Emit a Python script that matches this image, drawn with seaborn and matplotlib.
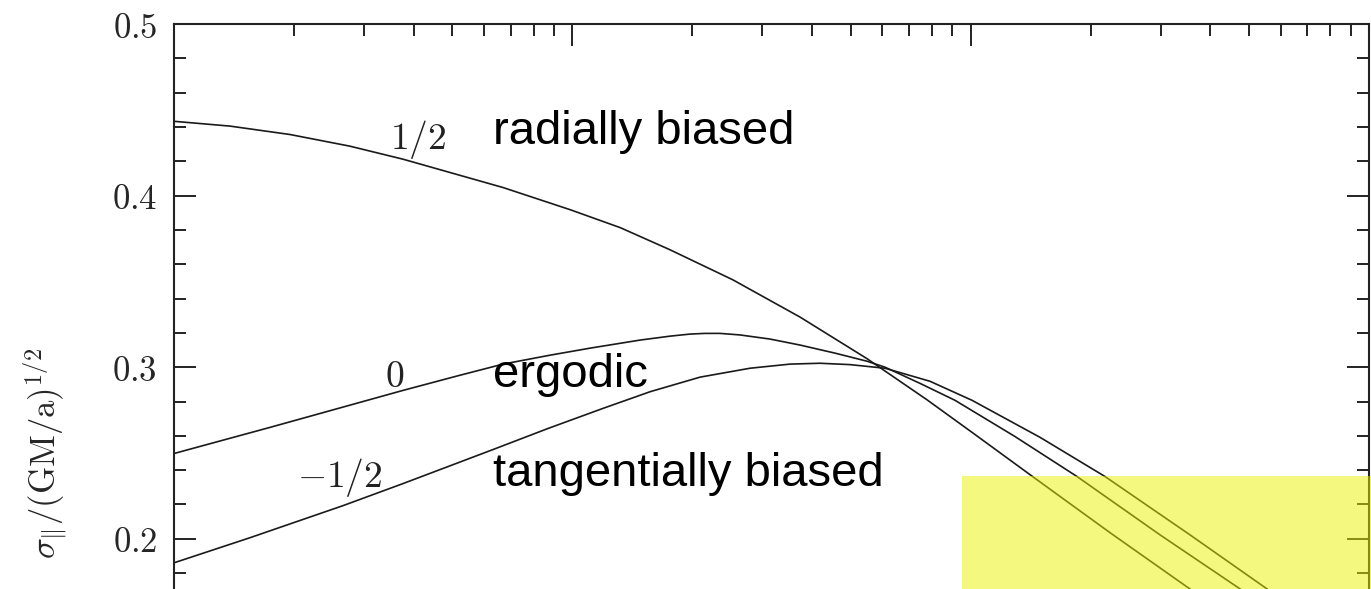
import matplotlib
matplotlib.use("Agg")
import matplotlib.pyplot as plt
import matplotlib.ticker as mticker
from matplotlib.patches import Rectangle
import seaborn as sns
import pandas as pd

# ---- data ----
x_radial = [0.01, 0.01382, 0.01955, 0.02765, 0.0376, 0.067, 0.0987, 0.132, 0.176,
            0.253, 0.373, 0.549, 0.777, 1.025, 1.43, 2.24, 3.55, 5.03]
y_radial = [0.4433, 0.4405, 0.4356, 0.4288, 0.4212, 0.4047, 0.3918, 0.3813, 0.3684,
            0.3509, 0.3292, 0.3050, 0.2810, 0.2608, 0.2363, 0.2035, 0.1708, 0.1439]

x_ergodic = [0.01, 0.0174, 0.0376, 0.0522, 0.067, 0.0879, 0.1108, 0.1479, 0.176,
             0.1974, 0.2153, 0.2348, 0.2636, 0.3135, 0.373, 0.4565, 0.549, 0.6095,
             0.7458, 0.9135, 1.292, 1.849, 2.988, 4.746, 6.335]
y_ergodic = [0.2497, 0.2649, 0.2865, 0.2953, 0.3018, 0.3070, 0.3111, 0.3158, 0.3181,
             0.3193, 0.3197, 0.3197, 0.3188, 0.3164, 0.3129, 0.3082, 0.3035, 0.3000,
             0.2906, 0.2807, 0.2596, 0.2363, 0.2023, 0.1708, 0.1509]

x_tangential = [0.01, 0.0155, 0.02655, 0.0376, 0.0632, 0.0869, 0.1194, 0.1567, 0.2092,
                0.2793, 0.352, 0.4185, 0.4979, 0.6095, 0.7904, 1.008, 1.494, 2.174,
                3.553, 5.546, 7.534]
y_tangential = [0.1860, 0.2006, 0.2193, 0.2322, 0.2520, 0.2643, 0.2760, 0.2857, 0.2942,
                0.2994, 0.3018, 0.3023, 0.3015, 0.2994, 0.2918, 0.2807, 0.2591, 0.2363,
                0.2023, 0.1708, 0.1474]

curve_labels = ["$1/2$", "$0$", "$-1/2$"]
curve_label_x = [0.0410, 0.0357, 0.0260]
curve_label_y = [0.4327, 0.2942, 0.2357]

notes = ["radially biased", "ergodic", "tangentially biased"]
notes_x = [0.0632, 0.0632, 0.0632]
notes_y = [0.4298, 0.2883, 0.2310]

y_ticks = [0.2, 0.3, 0.4, 0.5]

df = pd.concat([
    pd.DataFrame({"r": x_radial, "s": y_radial, "beta": "1/2"}),
    pd.DataFrame({"r": x_ergodic, "s": y_ergodic, "beta": "0"}),
    pd.DataFrame({"r": x_tangential, "s": y_tangential, "beta": "-1/2"}),
])

sns.set_theme(style="ticks")
plt.rcParams["mathtext.fontset"] = "cm"
plt.rcParams["font.family"] = ["DejaVu Sans"]

W, H = 1371, 589
fig = plt.figure(figsize=(W / 100, H / 100), dpi=100)
# axes spans y 0..0.5; the lower part lies below the visible picture
left_px, right_px, top_px, bottom_px = 174, 1369, 24, 882
ax = fig.add_axes([left_px / W, (H - bottom_px) / H,
                   (right_px - left_px) / W, (bottom_px - top_px) / H])

sns.lineplot(data=df, x="r", y="s", hue="beta", palette=["#1a1a1a"] * 3,
             estimator=None, sort=False, legend=False, linewidth=1.2, ax=ax)

ax.set_xscale("log")
ax.set_xlim(0.01, 10)
ax.set_ylim(0.0, 0.5)

ax.yaxis.set_major_locator(mticker.FixedLocator(y_ticks))
ax.yaxis.set_minor_locator(mticker.MultipleLocator(0.02))
ax.yaxis.set_major_formatter(mticker.FuncFormatter(lambda v, p: f"${v:.1f}$"))
ax.xaxis.set_major_locator(mticker.LogLocator(base=10, numticks=10))
ax.xaxis.set_minor_locator(mticker.LogLocator(base=10, subs=range(2, 10), numticks=20))
ax.xaxis.set_minor_formatter(mticker.NullFormatter())

ax.tick_params(which="both", direction="in", top=True, right=True, bottom=True,
               left=True, labelbottom=False, width=1.4, color="#222222")
ax.tick_params(which="major", length=16, labelsize=25, pad=12)
ax.tick_params(which="minor", length=8.5)
for sp in ax.spines.values():
    sp.set_linewidth(1.5)
    sp.set_color("#222222")

ax.set_xlabel("")
ax.set_ylabel(r"$\sigma_{\|}/(\mathrm{GM/a})^{1/2}$", fontsize=25)
ax.yaxis.set_label_coords(-0.088, 0.5)

for t, xx, yy in zip(curve_labels, curve_label_x, curve_label_y):
    ax.text(xx, yy, t, fontsize=27, ha="center", va="center", color="#222222")

for t, xx, yy in zip(notes, notes_x, notes_y):
    ax.text(xx, yy, t, fontsize=34, ha="left", va="baseline", color="black",
            family=["Liberation Sans", "DejaVu Sans"])

# translucent yellow highlight over the lower right corner
fig.add_artist(Rectangle((962 / W, 0), (W - 962) / W, 113 / H,
                         transform=fig.transFigure, facecolor=(0.93, 0.95, 0.0),
                         alpha=0.5, edgecolor="none", zorder=10))

fig.savefig("out.png", dpi=100)
